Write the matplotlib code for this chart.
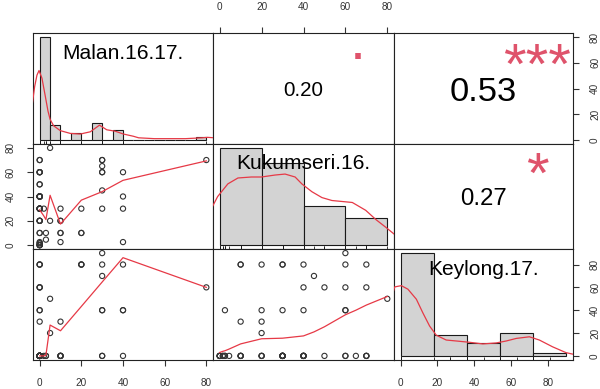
import numpy as np
import matplotlib
matplotlib.use('Agg')
import matplotlib.pyplot as plt
from matplotlib.transforms import offset_copy, blended_transform_factory

plt.rcParams['font.family'] = ['Liberation Sans', 'DejaVu Sans']

# ---------------- data ----------------
names = ['Malan.16.17.', 'Kukumseri.16.', 'Keylong.17.']

malan = [30, 20, 0, 20, 0, 40, 0, 30, 20, 30,
         30, 80, 0, 0, 0, 5, 40, 0, 30, 0,
         40, 0, 10, 5, 10, 10, 10, 10, 10, 30,
         30, 40, 0, 0, 0, 0, 0, 0, 0, 0,
         3, 3, 0, 0, 0, 2, 0, 0, 0, 0,
         0, 0, 0, 0, 0, 0, 0, 0, 0, 0,
         0, 0, 0]
kuk = [60, 10, 20, 30, 30, 40, 60, 70, 10, 60,
       45, 70, 40, 50, 60, 80, 2.5, 20, 30, 40,
       60, 10, 20, 20, 30, 10, 2.5, 20, 10, 65,
       70, 30, 0, 0, 0, 0, 0, 1.5, 1.5, 2.5,
       4.5, 10, 10, 20, 20, 30, 30, 30, 30, 30,
       30, 30, 40, 40, 40, 40, 40, 40, 50, 60,
       60, 70, 70]
keylong = [90, 80, 80, 80, 80, 80, 80, 80, 80, 40,
           70, 60, 60, 60, 60, 50, 40, 40, 40, 40,
           40, 30, 30, 20] + [0] * 39

hist_breaks = [list(range(0, 81, 5)), list(range(0, 81, 20)), list(range(0, 101, 20))]

# density curves (x in variable units, y in density units)
malan_dens_x = [-3.8, -2.4, -1.3, -0.3, 1.1, 2.7, 4.0, 5.0, 6.7, 9.9, 14.7, 19.5, 24.3,
                28.7, 32.2, 36.2, 40.2, 45.0, 47.5, 55, 70, 78, 80.5, 84]
malan_dens_y = [0.0413, 0.0693, 0.0840, 0.0900, 0.0800, 0.0567, 0.0373, 0.0267, 0.0183,
                0.0120, 0.0084, 0.0076, 0.0105, 0.0191, 0.0131, 0.0113, 0.0076, 0.0047,
                0.0027, 0.0016, 0.0016, 0.0027, 0.0033, 0.0027]
kuk_dens_x = [-3.9, -1.0, 3.9, 8.7, 15.1, 19.9, 26.4, 31.2, 36.0, 39.2, 44.0, 48.8, 53.6,
              58.5, 63.3, 69.7, 74.6, 79.4, 83.4, 86]
kuk_dens_y = [0.0075, 0.0099, 0.0125, 0.0137, 0.0139, 0.0139, 0.0143, 0.0145, 0.0139,
              0.0125, 0.0109, 0.0097, 0.0091, 0.0089, 0.0087, 0.0071, 0.0052, 0.0036,
              0.0022, 0.0015]
keylong_dens_x = [-4.2, -3.6, 0.4, 4.4, 9.5, 13.4, 17.5, 21.5, 27.5, 33.6, 41.6, 49.6,
                  57.7, 63.7, 69.8, 77.7, 83.7, 91.7, 99.8, 106]
keylong_dens_y = [0.0202, 0.0213, 0.0217, 0.0206, 0.0175, 0.0133, 0.0092, 0.0064, 0.0049,
                  0.0046, 0.0042, 0.0037, 0.0040, 0.0046, 0.0054, 0.0059, 0.0049, 0.0028,
                  0.0010, 0.0003]

# smoothing lines
smooth_kuk_malan_x = [0, 2, 3, 5, 10, 20, 30, 40, 80]
smooth_kuk_malan_y = [29, 24, 21, 41, 17.3, 37, 44, 53.3, 69.3]
smooth_key_malan_x = [0, 2, 3, 5, 10, 20, 30, 40, 80]
smooth_key_malan_y = [0, 0, 0.5, 27, 22, 43.3, 64.7, 86, 60]
smooth_key_kuk_x = [0, 1.5, 2.5, 4.5, 10, 20, 30, 40, 45, 50, 60, 65, 70, 80]
smooth_key_kuk_y = [3, 4, 4.5, 6, 10.5, 15, 15.5, 17.5, 21, 25.5, 36, 40, 44.5, 52]

cor_text = {(0, 1): '0.20', (0, 2): '0.53', (1, 2): '0.27'}
cor_stars = {(0, 1): '.', (0, 2): '***', (1, 2): '*'}
cor_fs = {(0, 1): 14.8, (0, 2): 24.8, (1, 2): 17.3}

ticks = [0, 20, 40, 60, 80]

# ---------------- layout ----------------
W, H = 600, 389
fig = plt.figure(figsize=(W / 100, H / 100), dpi=100)
xs = [33, 213, 394, 573]
ys = [33, 144, 249, 360]

RED = '#E63946'
STAR = '#DF536B'
EDGE = '#222222'


def rect(i, j):
    x0, x1 = xs[j], xs[j + 1]
    y0, y1 = ys[i], ys[i + 1]
    return [x0 / W, 1 - y1 / H, (x1 - x0) / W, (y1 - y0) / H]


def ext(lo, hi):
    d = hi - lo
    return (lo - 0.04 * d, hi + 0.04 * d)


data = [np.array(malan, float), np.array(kuk, float), np.array(keylong, float)]
lims = [ext(v.min(), v.max()) for v in data]
dens = [(malan_dens_x, malan_dens_y), (kuk_dens_x, kuk_dens_y), (keylong_dens_x, keylong_dens_y)]
smooth = {(1, 0): (smooth_kuk_malan_x, smooth_kuk_malan_y),
          (2, 0): (smooth_key_malan_x, smooth_key_malan_y),
          (2, 1): (smooth_key_kuk_x, smooth_key_kuk_y)}


def ink_text(ax, x, y, s, fs, color='black', ink=0.358, dy_px=0.0):
    tr = offset_copy(ax.transAxes, fig=fig, x=0, y=-(ink * fs) - dy_px * 0.72, units='points')
    ax.text(x, y, s, transform=tr, ha='center', va='baseline', fontsize=fs, color=color,
            zorder=10)


axes = {}
for i in range(3):
    for j in range(3):
        ax = fig.add_axes(rect(i, j))
        ax.set_xlim(lims[j])
        ax.set_ylim(lims[i])
        ax.tick_params(which='both', bottom=False, top=False, left=False, right=False,
                       labelbottom=False, labeltop=False, labelleft=False, labelright=False,
                       length=4.3, width=0.8, pad=8.0, labelsize=7.2, colors='#333333')
        ax.set_xticks(ticks)
        ax.set_yticks(ticks)
        for s in ax.spines.values():
            s.set_linewidth(0.8)
            s.set_color(EDGE)
        axes[(i, j)] = ax

        if i > j:
            ax.scatter(data[j], data[i], s=14, facecolors='none', edgecolors='#333333',
                       linewidths=0.8, zorder=3)
            sx, sy = smooth[(i, j)]
            ax.plot(sx, sy, color=RED, lw=0.9, zorder=4)
        elif i < j:
            ink_text(ax, 0.5, 0.5, cor_text[(i, j)], cor_fs[(i, j)])
            st = cor_stars[(i, j)]
            if st == '.':
                ink_text(ax, 0.8, 0.8, st, 41.8, color=STAR, ink=0.05, dy_px=1)
            else:
                ink_text(ax, 0.8, 0.8, st, 41.8, color=STAR, ink=0.57, dy_px=-5)

# axis ticks, R pairs style
a = axes[(0, 1)]
a.tick_params(axis='x', top=True, labeltop=True, pad=11.0)
for (i, j) in [(2, 0), (2, 2)]:
    axes[(i, j)].tick_params(axis='x', bottom=True, labelbottom=True, pad=9.0)
a = axes[(1, 0)]
a.tick_params(axis='y', left=True, labelleft=True, labelrotation=90)
for t in a.get_yticklabels():
    t.set_va('center')
for (i, j) in [(0, 2), (2, 2)]:
    a = axes[(i, j)]
    a.tick_params(axis='y', right=True, labelright=True, labelrotation=90)
    for t in a.get_yticklabels():
        t.set_va('center')

# diagonal: histograms with density and rug
for k in range(3):
    v = data[k]
    br = np.array(hist_breaks[k], float)
    idx = np.searchsorted(br, v, side='left') - 1
    idx[idx < 0] = 0
    counts = np.bincount(idx, minlength=len(br) - 1)
    width = np.diff(br)
    density = counts / (len(v) * width)
    hax = fig.add_axes(rect(k, k))
    hax.set_axis_off()
    hax.patch.set_visible(False)
    hax.set_xlim(ext(br[0], br[-1]))
    hax.set_ylim(ext(0, density.max()))
    hax.bar(br[:-1], density, width=width, align='edge', color='#D3D3D3',
            edgecolor='#1a1a1a', linewidth=0.8, zorder=2)
    dx, dy = dens[k]
    hax.plot(dx, dy, color=RED, lw=0.9, zorder=3)
    trans = blended_transform_factory(hax.transData, hax.transAxes)
    hax.vlines(v, 0, 0.03, transform=trans, color='#1a1a1a', lw=0.6, zorder=3)
    ink_text(hax, 0.5, 0.8333, names[k], 15.1)

fig.savefig('out.png', dpi=100)
